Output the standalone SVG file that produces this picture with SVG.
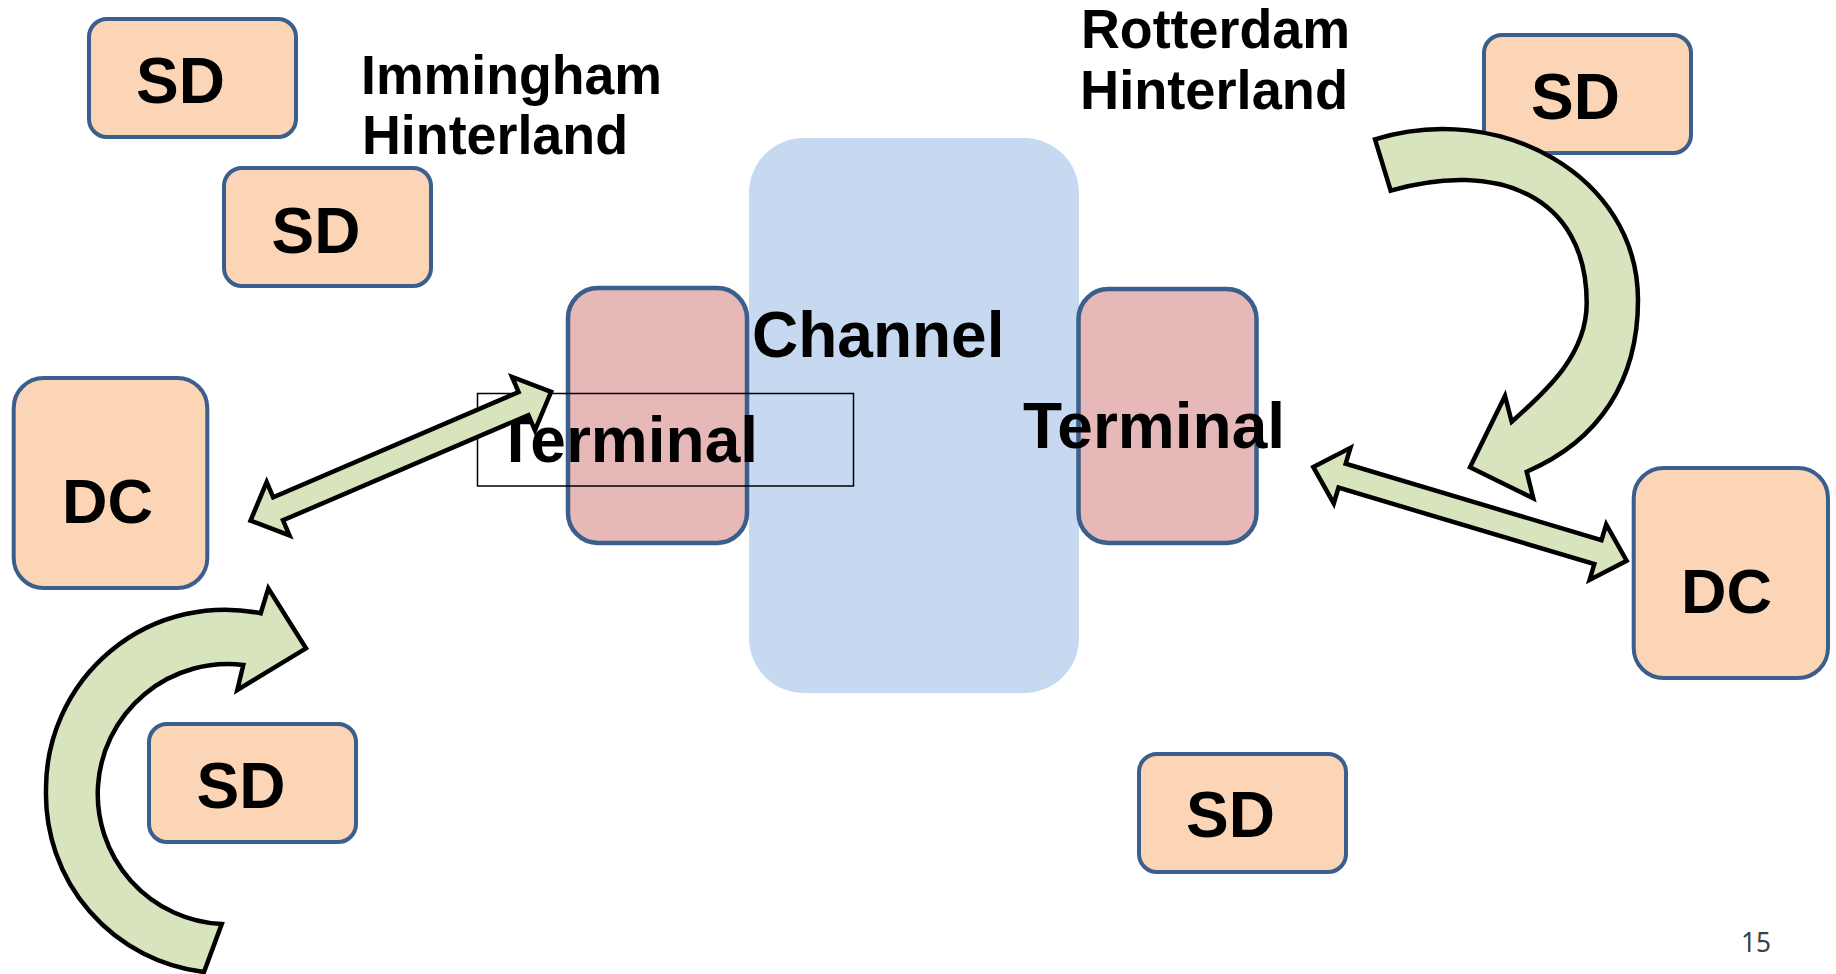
<svg xmlns="http://www.w3.org/2000/svg" xmlns:xlink="http://www.w3.org/1999/xlink" width="1836" height="974" viewBox="0 0 1836 974">
  <style>
    .bg { fill: #ffffff; }
    .site { fill: #FBD5B5; stroke: #3B5F8C; stroke-width: 4; }
    .term { fill: #E6B9B8; stroke: #3B5F8C; stroke-width: 4.5; }
    .chan { fill: #C6D9F1; }
    .flow { fill: #D7E4BD; stroke: #000000; stroke-width: 4.5; stroke-linejoin: miter; stroke-miterlimit: 10; }
    .frame { fill: none; stroke: #000000; stroke-width: 1.5; }
    .lbl { font-family: "Liberation Sans", Arial, sans-serif; font-weight: bold; fill: #000000; }
    .node { font-size: 64px; }
    .big { font-size: 63px; }
    .term-lbl { font-size: 64px; }
    .region { font-size: 56px; }
    .pageno { font-family: "Noto Sans", "Open Sans", sans-serif; font-size: 28px; fill: #404040; }
  </style>
  <defs>
    <!-- two-headed block arrow, centred on the origin, pointing along x -->
    <polygon id="dbl" points="-163.5,0 -133.5,-29 -133.5,-12.5 133.5,-12.5 133.5,-29 163.5,0 133.5,29 133.5,12.5 -133.5,12.5 -133.5,29"/>
  </defs>

  <rect class="bg" x="0" y="0" width="1836" height="974"/>

  <!-- shipping channel between the two terminals -->
  <g id="channel">
    <rect class="chan" x="749" y="138" width="330" height="555" rx="55" ry="55"/>
  </g>

  <g id="terminal-immingham">
    <rect class="term" x="568" y="288" width="179" height="255" rx="30" ry="30"/>
  </g>

  <g id="terminal-rotterdam">
    <rect class="term" x="1078.5" y="289" width="178" height="254" rx="30" ry="30"/>
    <text class="lbl term-lbl" x="1023" y="448">Terminal</text>
  </g>

  <g id="channel-label">
    <text class="lbl node" x="752" y="357">Channel</text>
  </g>

  <g id="terminal-immingham-label">
    <text class="lbl term-lbl" x="496" y="462">Terminal</text>
    <rect class="frame" x="477.5" y="393.5" width="376" height="92.5"/>
  </g>

  <g id="hinterland-immingham">
    <text class="lbl region" x="361" y="93.5" textLength="301" lengthAdjust="spacingAndGlyphs">Immingham</text>
    <text class="lbl region" x="362" y="154" textLength="266" lengthAdjust="spacingAndGlyphs">Hinterland</text>
  </g>

  <g id="hinterland-rotterdam">
    <text class="lbl region" x="1081" y="48" textLength="269" lengthAdjust="spacingAndGlyphs">Rotterdam</text>
    <text class="lbl region" x="1080" y="109" textLength="268" lengthAdjust="spacingAndGlyphs">Hinterland</text>
  </g>

  <!-- supply / demand sites -->
  <g id="sd-1">
    <rect class="site" x="89" y="19" width="207" height="118" rx="18" ry="18"/>
    <text class="lbl node" x="136" y="103">SD</text>
  </g>
  <g id="sd-2">
    <rect class="site" x="224" y="168" width="207" height="118" rx="18" ry="18"/>
    <text class="lbl node" x="271.5" y="253">SD</text>
  </g>
  <g id="sd-3">
    <rect class="site" x="149" y="724" width="207" height="118" rx="18" ry="18"/>
    <text class="lbl node" x="196.5" y="808">SD</text>
  </g>
  <g id="sd-4">
    <rect class="site" x="1484" y="35" width="207" height="118" rx="18" ry="18"/>
    <text class="lbl node" x="1531" y="119">SD</text>
  </g>
  <g id="sd-5">
    <rect class="site" x="1139" y="754" width="207" height="118" rx="18" ry="18"/>
    <text class="lbl node" x="1186" y="837">SD</text>
  </g>

  <!-- distribution centres -->
  <g id="dc-1">
    <rect class="site" x="13.7" y="378" width="193.6" height="210" rx="30" ry="30"/>
    <text class="lbl big" x="62" y="522.7">DC</text>
  </g>
  <g id="dc-2">
    <rect class="site" x="1633.7" y="468" width="194.3" height="210" rx="30" ry="30"/>
    <text class="lbl big" x="1681" y="612.7">DC</text>
  </g>

  <!-- flows -->
  <g id="connectors">
    <use class="flow" xlink:href="#dbl" href="#dbl" transform="translate(400.8 456.2) rotate(-23.2)"/>
    <use class="flow" xlink:href="#dbl" href="#dbl" transform="translate(1470 513.9) rotate(16.65)"/>
    <path class="flow" d="M 260.7,613.3 A 179 179 0 0 0 46,790 A 179 179 0 0 0 204,972 L 221.7,924 A 130 130 0 0 1 98,786 A 130 130 0 0 1 243.3,665 L 237.3,690 L 306,648.3 L 268.3,588.3 Z"/>
    <path class="flow" d="M 1375,139.3 C 1498.5,100.3 1638,175 1638,300 C 1638,380 1600.2,440.2 1526.7,471.7 L 1533.3,498.3 L 1470,467.3 L 1505,396 L 1511.7,421.7 C 1549.2,388.7 1586.7,353.3 1586.7,303 C 1586.7,195 1496.3,159.9 1390.7,190.7 Z"/>
  </g>

  <text class="pageno" x="1741" y="951.5" textLength="30" lengthAdjust="spacingAndGlyphs">15</text>
</svg>
